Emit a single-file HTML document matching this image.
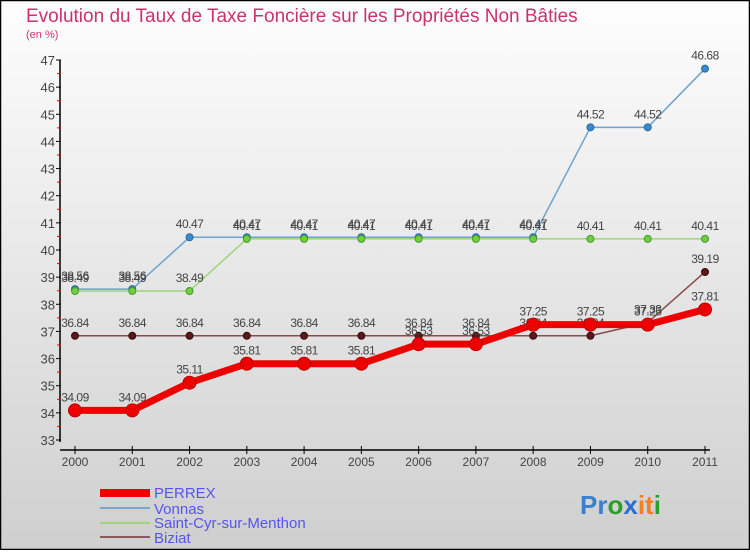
<!DOCTYPE html>
<html><head><meta charset="utf-8"><style>
body{margin:0}
svg text{font-family:"Liberation Sans",sans-serif}
</style></head><body>
<svg id="chart" width="750" height="550" xmlns="http://www.w3.org/2000/svg">
<defs><linearGradient id="bg" x1="0" y1="0" x2="0" y2="1"><stop offset="0" stop-color="#fefefe"/><stop offset="1" stop-color="#cfcfcf"/></linearGradient></defs>
<rect x="0.5" y="0.5" width="749" height="549" fill="url(#bg)" stroke="#000" stroke-width="1.5"/>
<text x="26" y="22" font-size="19" fill="#c8336e">Evolution du Taux de Taxe Foncière sur les Propriétés Non Bâties</text>
<text x="26" y="38" font-size="11" fill="#c8336e">(en %)</text>
<g id="axes"></g><g id="series"></g>
<g font-size="15" fill="#5555ee">
<rect x="100" y="489" width="50" height="8" fill="#ee0000"/><text x="154" y="498">PERREX</text>
<line x1="100" y1="508" x2="150" y2="508" stroke="#7aa7c8" stroke-width="2"/><text x="154" y="514">Vonnas</text>
<line x1="100" y1="523" x2="150" y2="523" stroke="#9cd57a" stroke-width="2"/><text x="154" y="528">Saint-Cyr-sur-Menthon</text>
<line x1="100" y1="537" x2="150" y2="537" stroke="#8a5a5a" stroke-width="2"/><text x="154" y="543">Biziat</text>
</g>
<g font-size="26" font-weight="bold"><text x="580" y="514"><tspan fill="#3a7fd0">Pr</tspan><tspan fill="#2aa02a">o</tspan><tspan fill="#2a6fd0">x</tspan><tspan fill="#f08020">it</tspan><tspan fill="#2aa02a">i</tspan></text></g>
</svg>
<script>
const years=["2000","2001","2002","2003","2004","2005","2006","2007","2008","2009","2010","2011"];
const yTicks=[33,34,35,36,37,38,39,40,41,42,43,44,45,46,47];
const perrex=[34.09,34.09,35.11,35.81,35.81,35.81,36.53,36.53,37.25,37.25,37.25,37.81];
const vonnas=[38.56,38.56,40.47,40.47,40.47,40.47,40.47,40.47,40.47,44.52,44.52,46.68];
const saintCyr=[38.49,38.49,38.49,40.41,40.41,40.41,40.41,40.41,40.41,40.41,40.41,40.41];
const biziat=[36.84,36.84,36.84,36.84,36.84,36.84,36.84,36.84,36.84,36.84,37.33,39.19];
const NS="http://www.w3.org/2000/svg";
const X=i=>75+i*(630/11);
const Y=v=>440-(v-33)*(380/14);
function mk(t,a,p){const e=document.createElementNS(NS,t);for(const k in a)e.setAttribute(k,a[k]);p.appendChild(e);return e;}
const ax=document.getElementById('axes');
let l=mk('line',{x1:60,y1:60,x2:60,y2:442,stroke:'#000','stroke-width':1.5},ax);

l=mk('line',{x1:60,y1:450,x2:710,y2:450,stroke:'#000','stroke-width':1.5},ax);

yTicks.forEach(v=>{
 mk('line',{x1:56,y1:Y(v),x2:61,y2:Y(v),stroke:'#000'},ax);
 if(v<47)mk('line',{x1:57,y1:Y(v+0.5),x2:61,y2:Y(v+0.5),stroke:'#e00'},ax);
 const t=mk('text',{x:55,y:Y(v)+5,'text-anchor':'end','font-size':13,fill:'#444'},ax);t.textContent=v;
 
});
years.forEach((y,i)=>{
 mk('line',{x1:X(i),y1:446,x2:X(i),y2:454,stroke:'#000'},ax);
 const t=mk('text',{x:X(i),y:466,'text-anchor':'middle','font-size':12,fill:'#444'},ax);t.textContent=y;
 
});
const sg=document.getElementById('series');
function series(name,data,color,w,r,dot,dstroke){
 const g=mk('g',{},sg);
 
 const p=mk('polyline',{points:data.map((v,i)=>X(i)+','+Y(v)).join(' '),fill:'none',stroke:color,'stroke-width':w,'stroke-linejoin':'round'},g);
 
 data.forEach((v,i)=>{
  const c=mk('circle',{cx:X(i),cy:Y(v),r:r,fill:dot,stroke:dstroke,'stroke-width':1},g);
  
  const t=mk('text',{x:X(i),y:Y(v)-9,'text-anchor':'middle','font-size':12,fill:'#444','letter-spacing':'-0.5'},g);t.textContent=v.toFixed(2);
  
 });
}
series('biziat',biziat,'#8a4a4a',1.5,3.5,'#5a1a1a','#3a0a0a');
series('vonnas',vonnas,'#6fa3d0',1.5,3.5,'#3a8ad0','#2a6aa0');
series('saint-cyr',saintCyr,'#9cd57a',1.5,3.5,'#6cd040','#4a9a2a');
series('perrex',perrex,'#ee0000',7,6.5,'#ee0000','#c00000');
</script>
</body></html>
